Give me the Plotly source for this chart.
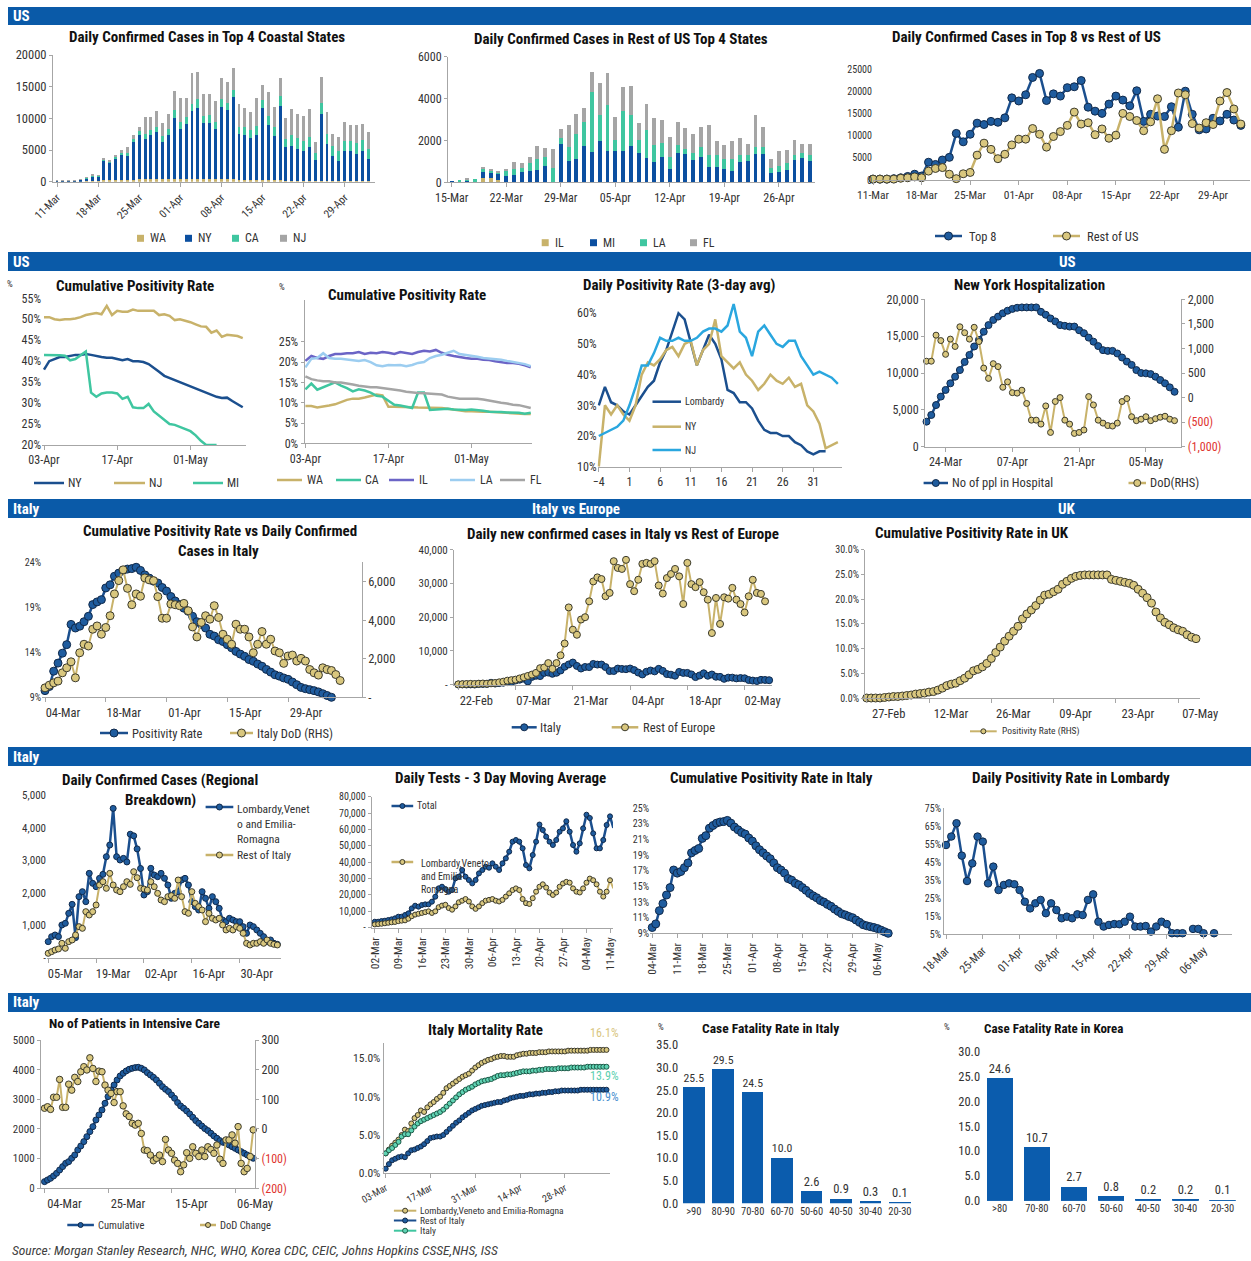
import pandas as pd
import plotly.graph_objects as go

W, H = 1251, 1261
NARROW = "Liberation Sans Narrow, Arial Narrow, Roboto Condensed, DejaVu Sans Condensed, Roboto, sans-serif"
TXT = "#333333"
AXC = "#a6a6a6"
DBLUE = "#1b4f8e"
MBLUE = "#1f5c9e"
DKOUT = "#10294a"
BARBLUE = "#0b4fa0"
TAN = "#c8b26a"
TANM = "#d9c77e"
TANOUT = "#3b3a2c"
TEAL = "#3fc6a0"
GRAY = "#a5a5a5"
PURPLE = "#6b64c6"
LBLUE = "#9ccdf0"
SKY = "#2aa7df"
HEAD = "#0a5aa8"
RED = "#e0352f"

# ---------------- DATA ----------------
# C1 Daily confirmed cases top 4 coastal states (11-Mar .. 03-May)
C1_START = "2020-03-11"
WA_c1 = [50,50,50,50,80,100,150,150,200,200,250,250,300,300,350,400,450,400,400,400,450,400,400,450,500,450,400,400,350,400,350,300,250,250,200,250,200,200,200,150,150,150,150,150,100,150,150,100,100,100,100,100,100,100]
NY_c1 = [100,140,100,140,200,420,700,600,3100,2800,3400,3900,3700,6000,7100,6300,7000,7500,5900,6900,9650,7900,8700,10650,11200,8850,8900,7900,11450,10900,12950,7200,7150,6650,7200,11450,8800,7000,11700,5250,5550,5050,4750,5350,3400,10550,5850,4000,3200,4700,4700,4200,4800,3500]
CA_c1 = [30,30,30,30,40,100,150,150,250,200,300,400,500,500,600,800,700,800,900,1000,1200,1200,1100,1200,1300,1100,1200,1100,1200,1200,1100,1200,1300,1200,1400,1200,1400,1500,1600,1300,1600,1700,1600,1500,1000,1700,1500,1600,1500,1700,1600,1800,1700,1500]
NJ_c1 = [20,30,20,30,30,80,100,100,250,300,250,450,900,600,650,2700,2050,2400,2100,2400,3000,3700,3000,4800,4300,3400,3300,3400,3300,3300,3500,3500,3000,2900,4400,2400,3800,3100,2900,3400,4200,3800,3900,4400,1700,4100,3500,1800,2300,2900,2600,2800,2500,2700]

# C2 Rest of US top 4 states (15-Mar .. 30-Apr)
C2_START = "2020-03-15"
IL_c2 = [0,0,0,0,200,200,100,0,0,0,0,0,0,0,0,0,0,0,0,0,0,0,0,0,0,0,0,0,0,0,0,0,0,0,0,0,0,0,0,0,0,0,0,0,0,0,0]
MI_c2 = [80,0,50,0,300,250,350,300,350,500,550,600,800,0,1850,1000,1100,1750,1450,1950,1500,1500,1500,1750,1400,1150,950,1200,650,1400,1350,1050,1200,750,750,650,550,950,1000,1350,1350,450,500,600,1050,1150,1000]
LA_c2 = [0,100,100,150,150,100,50,250,300,200,350,500,400,700,250,700,1200,1150,2850,1250,2200,500,1900,1450,600,1350,850,700,550,400,250,350,500,550,550,450,550,350,300,350,350,250,300,300,250,250,300]
FL_c2 = [0,0,50,0,100,100,50,100,300,200,300,650,450,900,450,1050,950,650,950,1550,1500,1100,1150,1400,850,1250,1250,1100,950,1100,1000,900,950,1450,650,700,850,800,550,1500,950,400,700,650,700,450,550]

# C3 Top 8 vs rest of US (11-Mar .. 03-May)
TOP8 = [200,200,200,300,500,800,1300,900,4000,3500,4500,5100,10500,8600,10300,12800,12500,13200,13000,14000,18500,17800,19200,23100,24000,17900,19400,18900,20800,21000,22400,16400,15500,15000,17100,18900,18000,16700,20100,13200,14800,14400,14300,16500,11900,20000,14800,11300,11500,13900,13300,14800,13500,12300]
REST_US = [200,200,200,200,400,500,700,500,2000,2600,2800,1300,300,1400,1700,5600,8300,6900,4800,5800,7900,9200,9200,11600,10300,7400,9800,10900,12300,15300,12600,12900,10200,11500,9400,10100,15000,14300,13400,11100,13100,18300,6900,11100,19600,19200,12700,11700,12900,12500,17800,19700,16000,12600]

# C4 / C5 cumulative positivity rate by state (03-Apr .. 11-May), %
POS_START = "2020-04-03"
NY_c4 = [38,40,40.5,41,41,41.3,41.5,41.5,41.7,41.5,41.2,41,40.8,40.8,40.5,40.2,40.5,40,40,39.8,39.3,38.5,37.5,36.5,36,35.5,35,34.5,34,33.5,33,32.5,32,31.5,31.2,31.3,30.5,29.8,29]
NJ_c4 = [50.5,50.5,50,49.8,50,50,50.2,50.5,51,51.3,51.5,51.2,53.2,51,52,51.8,51.8,52.3,52,52,52,52,51,51.2,50.8,49.8,50,49.7,49.3,48.8,48.3,48.2,46.8,47.3,45.8,46.3,46.2,46,45.5]
MI_c4 = [41.5,41.5,41.5,41.4,41.3,40.2,40.5,41.5,42.3,32.5,31.5,32.3,32.5,32.5,32.3,31,31.5,29,28.8,28.8,29.8,28,27,26,25,24.8,24.3,23.8,23.3,22.3,21,20,20,20,None,None,None,None,None]
WA_c5 = [9.2,9.2,8.8,9.0,9.3,9.6,10.2,10.7,11.0,11.0,11.3,11.6,12.0,11.8,9.0,9.0,9.0,9.0,8.9,8.8,8.8,8.8,8.8,8.7,8.5,8.3,8.0,7.9,7.9,7.8,7.8,7.8,7.7,7.5,7.4,7.3,7.3,7.2,7.2]
CA_c5 = [13.3,14.7,13.2,13.8,14.5,15.0,14.2,13.6,12.8,13.3,13.0,12.5,11.7,11.5,10.5,9.5,9.3,9.0,8.7,12.5,12.5,8.2,8.3,8.5,8.5,8.3,8.2,8.2,8.3,8.2,8.0,7.8,7.8,7.7,7.6,7.6,7.5,7.3,7.5]
IL_c5 = [20.3,21.5,21,20.8,21.5,22,22,22.2,22.2,22.5,22,22.3,22.2,22.5,22.3,22,22.5,22.3,22,22.5,22.8,22.6,23.0,22.3,21.8,21.5,21.2,21,20.8,20.8,20.6,20.5,20.2,20,19.8,19.8,19.6,19.2,18.7]
LA_c5 = [18.7,20.8,21,22.2,21,20.8,20.8,20.6,20.5,20.3,20.5,20.0,19.2,19.0,19.3,19.2,19.3,19.0,19.3,19.8,20.0,21.0,21.5,21.8,22.3,22.8,22.0,21.8,21.5,21.3,21.0,20.9,20.8,20.6,20.3,20.0,19.8,19.5,19.0]
FL_c5 = [16.5,15.8,15.5,15.3,15.3,15.0,15.0,14.8,14.5,14.2,14.0,13.8,13.8,13.6,13.5,13.3,13.0,12.7,12.5,12.4,12.3,12.2,12.2,12.0,11.5,11.2,11.0,11.0,11.0,11.0,10.8,10.5,10.3,10.0,9.8,9.5,9.4,9.0,8.7]

# C6 Daily positivity rate 3-day avg, days since start (from -4), %
C6_FIRST_DAY = -4
LOMB_c6 = [30,36,31,30,28,27,30,33,36,38,44,48,54,60,58,50,43,48,53,50,45,35,34,31,31,29,25,22,21,21,20,20,18,17,15,14,15,15]
NY_c6 = [10,30,27,30,27,25,30,40,44,43,45,48,49,46,50,51,43,48,50,58,46,44,42,44,40,38,35,37,40,38,37,39,36,37,30,28,24,16,17,18]
NJ_c6 = [20,21,22,23,25,30,36,43,43,47,52,51,51,52,51,51,52,54,55,55,54,56,63,54,52,46,54,56,53,50,49,51,51,46,43,40,41,40,39,37]

# C7 New York hospitalization (20-Mar .. 11-May)
C7_START = "2020-03-20"
HOSP = [3400,4300,5650,6800,7700,8600,9500,10400,11500,12450,13600,14500,15600,16500,17200,17650,18100,18450,18700,18850,18900,18900,18900,18900,18300,17900,17400,17000,16500,16400,16300,16300,15800,15400,14800,14250,13650,13100,13000,13000,12650,12100,11550,11100,10400,10000,9950,9850,9500,9050,8600,8050,7450]
HOSP_DOD = [740,740,1270,1160,880,1190,1040,1440,1320,1190,1430,1140,600,390,690,630,210,320,100,90,150,-120,-460,-460,-540,-170,-710,-80,0,-460,-540,-730,-710,-660,20,-150,-460,-520,-570,-580,-520,-80,-20,-390,-470,-440,-390,-470,-430,-400,-380,-440,-470]

# C8 / C13 Italy cumulative positivity (from 04-Mar), DoD cases
IT_START = "2020-03-04"
POS_IT = [9.74,10.2,11.9,12.8,13.9,14.85,17.1,16.7,16.9,17.4,18.0,19.3,19.6,19.85,21.15,21.5,22.45,22.8,23.1,23.25,23.3,23.45,23.1,22.6,22.25,21.9,21.7,21.2,20.8,20.2,19.7,19.3,18.9,18.55,18.0,17.4,17.1,16.7,16.0,15.8,15.4,15.2,14.85,14.5,14.1,13.8,13.55,13.2,13.0,12.7,12.45,12.1,11.8,11.5,11.35,11.15,11.0,10.7,10.4,10.1,9.96,9.85,9.74,9.6,9.4,9.2,9.0]
DOD_IT = [490,630,750,840,1270,1530,1840,1010,2310,2750,2660,3530,3700,3270,3620,4230,5360,6050,6610,5650,4800,5360,5240,6190,6090,6050,5220,4100,4100,4840,4800,4750,4870,4490,3650,3130,3880,4230,4050,4750,4140,3270,3010,2750,3790,3530,3530,3130,2310,2750,3410,2750,3010,2400,2310,1760,2140,2190,1880,2020,1880,1440,1270,1150,1530,1440,1390,1180,870]

# C9 Italy vs rest of Europe daily new cases (22-Feb .. 08-May)
EU_START = "2020-02-22"
ITALY_EU = [60,90,70,90,60,200,230,240,570,340,470,590,770,780,1250,1490,1800,980,2310,2650,2550,3500,3590,3230,3530,4210,5320,5990,6560,5560,4790,5250,5210,6150,5960,5970,5220,4050,4050,4780,4670,4590,4800,4320,3600,3040,3840,4200,3950,4690,4090,3150,2970,2670,3790,3490,3490,3050,2260,2730,3370,2650,3020,2360,2320,1740,2090,2090,1870,1970,1900,1390,1220,1080,1440,1400,1330]
REST_EU = [100,150,200,250,200,300,350,300,400,500,700,900,1200,1350,1500,1850,2200,2600,3000,3500,4900,5100,6400,4700,6400,8700,12200,22900,16300,14800,19300,20000,24700,30600,31800,31300,26200,27200,36600,34600,34300,37000,29800,27700,31100,35800,36100,35800,36600,29400,27000,31600,32800,34300,32100,23900,36100,29800,28900,30400,27400,25200,15300,25700,18000,25900,25500,28700,25200,23900,21400,26200,31100,27200,26900,24700,None]

# C10 UK cumulative positivity (27-Feb .. 11-May), %
UK_START = "2020-02-27"
UK_POS = [0,0,0,0,0.1,0.2,0.3,0.3,0.4,0.5,0.6,0.8,0.9,1.0,1.2,1.3,1.6,2.0,2.5,2.8,3.0,3.5,4.0,4.7,5.5,5.8,6.3,7.0,8.0,9.2,10.3,11.5,12.5,13.5,14.5,16.0,17.0,17.8,18.7,19.8,20.8,21.0,21.5,22.0,23.0,23.6,24.2,24.6,24.8,24.9,24.9,24.9,24.9,24.9,24.9,24.0,23.8,23.6,23.4,23.2,22.8,22.0,21.2,20.3,19.2,17.4,16.2,15.3,14.8,14.2,13.8,13.5,12.8,12.3,12.0]

# C11 Italy regional breakdown daily cases (05-Mar .. 11-May)
REG_START = "2020-03-05"
LVE_CASES = [510,663,714,663,1020,1071,1377,1652,632,1887,2040,1734,2601,2295,2193,2448,2570,3111,3468,4590,3111,3009,3060,2950,3800,3750,3350,2750,1938,2040,2754,2550,2499,2601,2448,2244,1836,1989,2040,2397,2448,2244,1734,1581,1479,2040,1836,1530,1887,1734,1530,1173,1122,1224,1173,1122,1122,969,765,1020,969,867,765,663,510,561,459,428]
ROI_CASES = [153,204,255,286,459,306,510,561,714,969,918,1428,1326,1428,1632,2244,2346,2142,2601,2244,2091,2040,2193,2346,2264,2652,2468,2142,2121,2091,2346,2193,1989,1785,1734,1887,1918,1836,2397,1887,1428,1377,2040,1683,1581,1479,1122,1377,1224,1173,1224,1020,867,918,867,969,918,765,459,408,459,459,510,459,561,459,428,408]

# C12 Daily tests 3-day MA (02-Mar .. 12-May)
TEST_START = "2020-03-02"
TESTS_TOTAL = [3660,3660,4070,4280,4680,5090,5700,6720,6720,7740,8750,11800,13440,12830,13840,14250,14250,15880,18930,24020,25040,23620,21990,23000,30130,31150,35220,31150,29110,27080,29110,33190,35220,37260,36650,39290,37260,35220,39290,42350,46420,52530,53550,52530,48460,38280,36240,44390,52530,63000,59650,55580,52530,50490,53550,58640,60670,65000,58640,50490,46420,51510,60670,69000,67000,57620,48460,48460,53550,62710,68000,61000]
TESTS_LVE = [2000,2200,2400,2700,3000,3300,3500,4000,4300,4500,5500,7000,8000,8500,9000,9500,10000,9000,10000,12500,13500,14000,12000,11000,13000,15500,16500,17500,16000,13000,11500,13000,15000,16500,17000,17500,16500,16000,17000,19000,21000,23000,24000,23000,17500,15000,14500,18000,22000,25000,26500,24500,21500,20000,21500,25000,27000,28000,27500,24000,22000,21500,24000,27500,30000,29000,26500,22000,19000,22000,29000,24000]

# C14 Lombardy daily positivity (18-Mar .. 08-May), %
LOMB_START = "2020-03-18"
LOMB_POS = [54.6,59.3,66.7,48.7,34.6,44.4,59.3,56.5,33.3,42.6,29.6,32.4,33.3,32.8,29.6,23.1,19.4,22.2,24.1,16.7,22.2,18.5,13.9,14.8,13.9,16.1,15.7,24.1,27.2,12.0,9.3,10.2,10.7,10.6,12.0,14.8,9.3,9.3,9.6,6.5,9.3,12.0,10.7,5.6,5.6,5.6,None,8.0,8.0,5.6,None,5.6]

# C15 Italy intensive care (04-Mar .. 12-May)
ICU_START = "2020-03-04"
ICU = [225,281,337,416,506,618,731,843,899,1012,1124,1293,1427,1574,1742,1911,2079,2304,2473,2641,2866,3091,3316,3484,3653,3788,3878,3956,4013,4046,4069,4080,4046,3990,3900,3822,3743,3653,3541,3428,3338,3260,3147,3035,2889,2776,2698,2608,2507,2394,2282,2192,2102,2012,1945,1855,1765,1686,1607,1551,1517,1461,1405,1349,1293,1236,1180,1124,1068,1012]
ICU_DOD = [70,75,66,107,107,167,73,73,151,131,174,160,193,210,199,240,204,160,195,193,148,131,120,89,126,126,78,51,42,19,13,19,-15,-71,-73,-88,-107,-99,-88,-110,-35,-71,-82,-105,-116,-144,-121,-80,-99,-60,-82,-93,-71,-93,-60,-69,-82,-54,-102,-116,-37,-37,-20,-48,8,-116,-144,-133,-93,-3]

# C16 Italy mortality rate (03-Mar .. 11-May), %
MORT_START = "2020-03-03"
MORT_LVE = [2.6,3.1,3.6,4.0,4.4,5.0,5.7,5.5,6.5,7.2,7.6,8.2,8.0,8.6,9.0,9.3,9.7,10.0,10.5,11.1,11.4,11.7,12.0,12.3,12.6,12.8,13.0,13.4,13.8,14.1,14.4,14.6,14.8,14.9,15.1,15.2,15.3,15.3,15.2,15.2,15.2,15.4,15.5,15.6,15.6,15.7,15.7,15.7,15.8,15.8,15.8,15.9,15.9,15.9,15.9,15.9,15.9,16.0,16.0,16.0,16.0,16.0,16.0,16.0,16.1,16.1,16.1,16.1,16.1,16.1]
MORT_ROI = [0.6,1.2,1.7,1.9,2.1,2.2,2.1,2.6,3.0,3.1,3.3,3.5,3.8,4.2,4.6,4.7,4.8,4.8,5.0,5.4,5.8,6.2,6.6,6.9,7.3,7.6,7.9,8.2,8.4,8.6,8.8,8.9,9.0,9.1,9.2,9.3,9.3,9.5,9.6,9.8,9.9,10.0,10.1,10.1,10.2,10.3,10.3,10.4,10.4,10.5,10.5,10.6,10.6,10.7,10.7,10.8,10.8,10.8,10.8,10.8,10.8,10.9,10.9,10.9,10.9,10.9,10.9,10.9,10.9,10.9]
MORT_IT = [2.6,3.0,3.3,3.7,4.1,4.8,5.1,5.1,5.6,6.1,6.5,6.8,7.0,7.2,7.4,7.6,7.8,8.0,8.3,8.7,9.1,9.5,9.9,10.3,10.6,10.9,11.1,11.3,11.6,11.8,12.0,12.1,12.2,12.3,12.5,12.7,12.8,12.8,12.9,12.9,13.0,13.1,13.2,13.3,13.3,13.3,13.4,13.4,13.5,13.5,13.6,13.6,13.6,13.6,13.7,13.7,13.7,13.7,13.8,13.8,13.8,13.8,13.8,13.9,13.9,13.9,13.9,13.9,13.9,13.9]
MORT_LABELS = ["16.1%", "13.9%", "10.9%"]

# C17 / C18 case fatality rate by age
AGE_IT = [">90", "80-90", "70-80", "60-70", "50-60", "40-50", "30-40", "20-30"]
CFR_IT = [25.5, 29.5, 24.5, 10.0, 2.6, 0.9, 0.3, 0.1]
AGE_KR = [">80", "70-80", "60-70", "50-60", "40-50", "30-40", "20-30"]
CFR_KR = [24.6, 10.7, 2.7, 0.8, 0.2, 0.2, 0.1]

# ---------------- HELPERS ----------------
def days(start, n):
    return pd.date_range(start, periods=n, freq="D").strftime("%Y-%m-%d").tolist()

def drange(start, p0, k, L, R):
    s = pd.Timestamp(start)
    a = s + pd.Timedelta(days=(L - p0) / k)
    b = s + pd.Timedelta(days=(R - p0) / k)
    return [a.strftime("%Y-%m-%d %H:%M:%S"), b.strftime("%Y-%m-%d %H:%M:%S")]

def tf(size=11, color=TXT):
    return dict(family=NARROW, size=size, color=color)

BASE_X = dict(showgrid=False, zeroline=False, showline=True, linecolor=AXC, linewidth=1, automargin=False,
              ticks="outside", ticklen=4, tickcolor=AXC, tickfont=tf(11), fixedrange=True)
BASE_Y = dict(showgrid=False, zeroline=False, showline=False, ticks="", tickfont=tf(11), fixedrange=True,
              automargin=False)

layout_axes = {}
traces = []
shapes = []
annos = []
cnt = {"x": 0, "y": 0}

def _axid(kind):
    cnt[kind] += 1
    n = cnt[kind]
    suf = "" if n == 1 else str(n)
    return kind + suf, kind + "axis" + suf

def panel(L, R, T, B, xkw, ykw, y2kw=None):
    xid, xkey = _axid("x")
    yid, ykey = _axid("y")
    X = dict(BASE_X); X.update(xkw); X.update(domain=[L / W, R / W], anchor=yid)
    Y = dict(BASE_Y); Y.update(ykw); Y.update(domain=[1 - B / H, 1 - T / H], anchor=xid)
    layout_axes[xkey] = X
    layout_axes[ykey] = Y
    y2id = None
    if y2kw is not None:
        y2id, y2key = _axid("y")
        Y2 = dict(BASE_Y); Y2.update(y2kw); Y2.update(overlaying=yid, anchor=xid, side="right")
        layout_axes[y2key] = Y2
    return xid, yid, y2id

def date_x(start, p0, k, L, R, tick0, dtick_days, last, angle=0, size=11, shift=0):
    tv = pd.date_range(tick0, last, freq="%dD" % dtick_days)
    d = dict(type="date", range=drange(start, p0, k, L, R), tickmode="array",
             tickvals=tv.strftime("%Y-%m-%d").tolist(), ticktext=tv.strftime("%d-%b").tolist(),
             tickangle=angle, tickfont=tf(size))
    if shift:
        d["ticklabelshift"] = shift
    return d

def sc(x, y, xid, yid, color, width=2.5, msize=None, mfill=None, mout=None):
    kw = dict(x=x[:len(y)], y=y, xaxis=xid, yaxis=yid, showlegend=False, cliponaxis=False,
              line=dict(color=color, width=width))
    if msize:
        kw["mode"] = "lines+markers"
        kw["marker"] = dict(size=msize, color=mfill, line=dict(color=mout, width=1))
    else:
        kw["mode"] = "lines"
    traces.append(go.Scatter(**kw))

def P(x, y):
    return x / W, 1 - y / H

def text(t, x, y, size=11, color=TXT, anchor="left", bold=False, italic=False, family=NARROW):
    if bold:
        t = "<b>" + t + "</b>"
    if italic:
        t = "<i>" + t + "</i>"
    xx, yy = P(x, y)
    annos.append(dict(text=t, x=xx, y=yy, xref="paper", yref="paper", xanchor=anchor,
                      yanchor="middle", showarrow=False, font=dict(family=family, size=size, color=color)))

def title(t, x, y, size=15):
    text(t, x, y, size=size, color="#111111", anchor="center", bold=True)

def rect(x0, y0, x1, y1, color):
    a, b = P(x0, y0)
    c, d = P(x1, y1)
    shapes.append(dict(type="rect", xref="paper", yref="paper", x0=a, y0=d, x1=c, y1=b,
                       fillcolor=color, line=dict(width=0)))

def leg_sq(x, y, color, label, size=7, fsize=12):
    rect(x, y - size / 2, x + size, y + size / 2, color)
    text(label, x + size + 4, y, size=fsize)

def leg_line(x0, x1, y, color, label, tx=None, width=2.5, msize=None, mfill=None, mout=None, fsize=11):
    a, b = P(x0, y)
    c, _ = P(x1, y)
    shapes.append(dict(type="line", xref="paper", yref="paper", x0=a, y0=b, x1=c, y1=b,
                       line=dict(color=color, width=width)))
    if msize:
        cx = (x0 + x1) / 2
        r = msize / 2
        e, f = P(cx - r, y + r)
        g, h = P(cx + r, y - r)
        shapes.append(dict(type="circle", xref="paper", yref="paper", x0=e, y0=f, x1=g, y1=h,
                           fillcolor=mfill, line=dict(color=mout, width=1)))
    if label:
        text(label, tx if tx is not None else x1 + 3, y, size=fsize)

def neg_red(vals, labels):
    out = []
    for v, l in zip(vals, labels):
        out.append('<span style="color:%s">%s</span>' % (RED, l) if v < 0 else l)
    return out

DAY_MS = 86400000

# ---------------- SECTION HEADERS ----------------
for (t, b) in [(7, 25), (252, 271), (499, 518), (747, 766), (993, 1012)]:
    rect(8, t, W, b, HEAD)
text("US", 11, 16, size=15, color="white", bold=True)
text("US", 11, 261.5, size=15, color="white", bold=True)
text("US", 1067, 261.5, size=15, color="white", bold=True, anchor="center")
text("Italy", 11, 508.5, size=15, color="white", bold=True)
text("Italy vs Europe", 576, 508.5, size=15, color="white", bold=True, anchor="center")
text("UK", 1067, 508.5, size=15, color="white", bold=True, anchor="center")
text("Italy", 11, 756.5, size=15, color="white", bold=True)
text("Italy", 11, 1002.5, size=15, color="white", bold=True)

# ---------------- C1 ----------------
L, R = 53, 375
x1, y1, _ = panel(L, R, 55, 181.7,
                  date_x(C1_START, 57, 5.87, L, R, "2020-03-11", 7, "2020-04-29", angle=-45, size=11),
                  dict(range=[0, 20000], dtick=5000, tickformat="d", showline=True, linecolor=AXC,
                       ticks="outside", ticklen=3, tickcolor=AXC, tickfont=tf(12.5)))
d1 = days(C1_START, len(NY_c1))
for vals, col in [(WA_c1, TAN), (NY_c1, BARBLUE), (CA_c1, TEAL), (NJ_c1, GRAY)]:
    traces.append(go.Bar(x=d1, y=vals, xaxis=x1, yaxis=y1, marker=dict(color=col, line=dict(width=0)),
                         width=0.5 * DAY_MS, showlegend=False))
title("Daily Confirmed Cases in Top 4 Coastal States", 206.7, 37)
leg_sq(137, 238.3, TAN, "WA")
leg_sq(185, 238.3, BARBLUE, "NY")
leg_sq(232, 238.3, TEAL, "CA")
leg_sq(280, 238.3, GRAY, "NJ")

# ---------------- C2 ----------------
L, R = 448, 815
x2, y2, _ = panel(L, R, 56.7, 182.3,
                  date_x(C2_START, 451.7, 7.79, L, R, "2020-03-15", 7, "2020-04-26", angle=0, size=12),
                  dict(range=[0, 6000], dtick=2000, tickformat="d", showline=True, linecolor=AXC,
                       ticks="outside", ticklen=3, tickcolor=AXC, tickfont=tf(12)))
d2 = days(C2_START, len(MI_c2))
for vals, col in [(IL_c2, TAN), (MI_c2, BARBLUE), (LA_c2, TEAL), (FL_c2, GRAY)]:
    traces.append(go.Bar(x=d2, y=vals, xaxis=x2, yaxis=y2, marker=dict(color=col, line=dict(width=0)),
                         width=0.5 * DAY_MS, showlegend=False))
title("Daily Confirmed Cases in Rest of US Top 4 States", 620.8, 39.3)
leg_sq(541.7, 242.7, TAN, "IL")
leg_sq(590, 242.7, BARBLUE, "MI")
leg_sq(640, 242.7, TEAL, "LA")
leg_sq(690, 242.7, GRAY, "FL")

# ---------------- C3 ----------------
L, R = 873, 1250
x3, y3, _ = panel(L, R, 69, 180,
                  date_x(C1_START, 873, 6.94, L, R, "2020-03-11", 7, "2020-04-29", angle=0, size=11.5),
                  dict(range=[0, 25000], dtick=5000, tickformat="d", tickfont=tf(10)))
d3 = days(C1_START, len(TOP8))
sc(d3, TOP8, x3, y3, DBLUE, 2.5, 8, MBLUE, DKOUT)
sc(d3, REST_US, x3, y3, TAN, 2.5, 8, TANM, TANOUT)
title("Daily Confirmed Cases in Top 8 vs Rest of US", 1026.7, 37.3)
leg_line(935, 962, 236, DBLUE, "Top 8", tx=967, msize=8, mfill=MBLUE, mout=DKOUT, fsize=12.5)
leg_line(1053, 1080, 236, TAN, "Rest of US", tx=1085, msize=8, mfill=TANM, mout=TANOUT, fsize=12.5)

# ---------------- C4 ----------------
L, R = 42, 246
x4, y4, _ = panel(L, R, 298.3, 445,
                  date_x(POS_START, 44, 5.23, L, R, "2020-04-03", 14, "2020-05-01", angle=0, size=12),
                  dict(range=[20, 55], tickvals=[20, 25, 30, 35, 40, 45, 50, 55],
                       ticktext=["20%", "25%", "30%", "35%", "40%", "45%", "50%", "55%"], tickfont=tf(12)))
d4 = days(POS_START, 39)
sc(d4, NY_c4, x4, y4, DBLUE, 2.5)
sc(d4, NJ_c4, x4, y4, TAN, 2.5)
sc(d4, MI_c4, x4, y4, TEAL, 2.5)
title("Cumulative Positivity Rate", 134.8, 286)
text("%", 5, 284, size=9)
leg_line(34, 64, 483, DBLUE, "NY", tx=66, fsize=12)
leg_line(114, 145, 483, TAN, "NJ", tx=147, fsize=12)
leg_line(193, 223, 483, TEAL, "MI", tx=225, fsize=12)

# ---------------- C5 ----------------
L, R = 304.6, 532
x5, y5, _ = panel(L, R, 300, 443.3,
                  date_x(POS_START, 305.4, 5.93, L, R, "2020-04-03", 14, "2020-05-01", angle=0, size=12),
                  dict(range=[0, 35.3], tickvals=[0, 5, 10, 15, 20, 25],
                       ticktext=["0%", "5%", "10%", "15%", "20%", "25%"],
                       showline=True, linecolor=AXC, ticks="outside", ticklen=3, tickcolor=AXC, tickfont=tf(12)))
sc(d4, WA_c5, x5, y5, TAN, 2.5)
sc(d4, CA_c5, x5, y5, TEAL, 2.5)
sc(d4, IL_c5, x5, y5, PURPLE, 2.5)
sc(d4, LA_c5, x5, y5, LBLUE, 2.5)
sc(d4, FL_c5, x5, y5, GRAY, 2.5)
title("Cumulative Positivity Rate", 407, 295)
text("%", 276.8, 287, size=9)
leg_line(277, 302, 480, TAN, "WA", tx=305, fsize=12)
leg_line(336, 361, 480, TEAL, "CA", tx=363, fsize=12)
leg_line(389, 414, 480, PURPLE, "IL", tx=417, fsize=12)
leg_line(450, 475, 480, LBLUE, "LA", tx=478, fsize=12)
leg_line(500, 525, 480, GRAY, "FL", tx=528, fsize=12)

# ---------------- C6 ----------------
L, R = 597.5, 842
p0, k = 598.8, 6.13
x6, y6, _ = panel(L, R, 300, 466.7,
                  dict(type="linear", range=[-4 + (L - p0) / k, -4 + (R - p0) / k], tick0=-4, dtick=5,
                       tickfont=tf(12)),
                  dict(range=[10, 64.3], tickvals=[10, 20, 30, 40, 50, 60],
                       ticktext=["10%", "20%", "30%", "40%", "50%", "60%"], tickfont=tf(12)))
sc(list(range(C6_FIRST_DAY, C6_FIRST_DAY + len(LOMB_c6))), LOMB_c6, x6, y6, DBLUE, 2.5)
sc(list(range(C6_FIRST_DAY, C6_FIRST_DAY + len(NY_c6))), NY_c6, x6, y6, TAN, 2.5)
sc(list(range(C6_FIRST_DAY, C6_FIRST_DAY + len(NJ_c6))), NJ_c6, x6, y6, SKY, 2.5)
title("Daily Positivity Rate (3-day avg)", 679, 285)
leg_line(652.5, 681, 401.7, DBLUE, "Lombardy", tx=683, fsize=10)
leg_line(652.5, 681, 426.7, TAN, "NY", tx=683, fsize=10)
leg_line(652.5, 681, 450, SKY, "NJ", tx=683, fsize=10)

# ---------------- C7 ----------------
L, R = 925, 1181.4
r_vals = [-1000, -500, 0, 500, 1000, 1500, 2000]
r_txt = neg_red(r_vals, ["(1,000)", "(500)", "0", "500", "1,000", "1,500", "2,000"])
x7, y7, y7b = panel(L, R, 299.3, 446.7,
                    date_x(C7_START, 926.5, 4.77, L, R, "2020-03-24", 14, "2020-05-05", angle=0, size=12),
                    dict(range=[0, 20000], dtick=5000, tickformat=",d", showline=True, linecolor=AXC,
                         ticks="outside", ticklen=3, tickcolor=AXC, tickfont=tf(12)),
                    dict(range=[-1000, 2000], tickvals=r_vals, ticktext=r_txt, showline=True, linecolor=AXC,
                         ticks="outside", ticklen=3, tickcolor=AXC, tickfont=tf(12)))
d7 = days(C7_START, len(HOSP))
sc(d7, HOSP, x7, y7, DBLUE, 2.5, 7, MBLUE, DKOUT)
sc(d7, HOSP_DOD, x7, y7b, TAN, 2, 6, TANM, TANOUT)
title("New York Hospitalization", 1029.4, 285)
leg_line(923.6, 948, 483, DBLUE, "No of ppl in Hospital", tx=950, msize=7, mfill=MBLUE, mout=DKOUT, fsize=12.5)
leg_line(1128.5, 1146, 483, TAN, "DoD(RHS)", tx=1148.4, msize=7, mfill=TANM, mout=TANOUT, fsize=12.5)

# ---------------- C8 ----------------
L, R = 42, 361.7
x8, y8, y8b = panel(L, R, 562.3, 697.3,
                    date_x(IT_START, 45, 4.34, L, R, "2020-03-04", 14, "2020-04-29", angle=0, size=12.5, shift=18),
                    dict(range=[9, 24], tickvals=[9, 14, 19, 24], ticktext=["9%", "14%", "19%", "24%"],
                         tickfont=tf(10)),
                    dict(range=[0, 7000], tickvals=[0, 2000, 4000, 6000], ticktext=["-", "2,000", "4,000", "6,000"],
                         showline=True, linecolor=AXC, ticks="outside", ticklen=3, tickcolor=AXC, tickfont=tf(12.5)))
d8 = days(IT_START, 70)
sc(d8, POS_IT, x8, y8, DBLUE, 2.5, 8, MBLUE, DKOUT)
sc(d8, DOD_IT, x8, y8b, TAN, 2, 8, TANM, TANOUT)
title("Cumulative Positivity Rate vs Daily Confirmed", 220, 531.3)
title("Cases in Italy", 218, 551.3)
leg_line(100, 128, 733, DBLUE, "Positivity Rate", tx=130, msize=8, mfill=MBLUE, mout=DKOUT, fsize=12.5)
leg_line(230, 253, 733, TAN, "Italy DoD (RHS)", tx=255, msize=8, mfill=TANM, mout=TANOUT, fsize=12.5)

# ---------------- C9 ----------------
L, R = 454, 772
x9, y9, _ = panel(L, R, 549.7, 684.7,
                  date_x(EU_START, 458.3, 4.09, L, R, "2020-02-22", 14, "2020-05-02", angle=0, size=12.5, shift=18),
                  dict(range=[0, 40000], tickvals=[0, 10000, 20000, 30000, 40000],
                       ticktext=["-", "10,000", "20,000", "30,000", "40,000"], showline=True, linecolor=AXC,
                       ticks="outside", ticklen=3, tickcolor=AXC, tickfont=tf(11)))
d9 = days(EU_START, len(ITALY_EU))
sc(d9, ITALY_EU, x9, y9, DBLUE, 2.5, 7, MBLUE, DKOUT)
sc(d9, REST_EU, x9, y9, TAN, 2, 7, TANM, TANOUT)
title("Daily new confirmed cases in Italy vs Rest of Europe", 623.3, 534)
leg_line(511.7, 536.7, 727.3, DBLUE, "Italy", tx=538.3, msize=7, mfill=MBLUE, mout=DKOUT, fsize=12.5)
leg_line(611.7, 638.3, 727.3, TAN, "Rest of Europe", tx=640.7, msize=7, mfill=TANM, mout=TANOUT, fsize=12.5)

# ---------------- C10 ----------------
L, R = 865, 1200
x10, y10, _ = panel(L, R, 549.7, 698,
                    date_x(UK_START, 866.7, 4.45, L, R, "2020-02-27", 14, "2020-05-07", angle=0, size=12.5, shift=22),
                    dict(range=[0, 30], tickvals=[0, 5, 10, 15, 20, 25, 30],
                         ticktext=["0.0%", "5.0%", "10.0%", "15.0%", "20.0%", "25.0%", "30.0%"],
                         showline=True, linecolor=AXC, ticks="outside", ticklen=3, tickcolor=AXC, tickfont=tf(10)))
d10 = days(UK_START, len(UK_POS))
sc(d10, UK_POS, x10, y10, TAN, 2, 8, TANM, TANOUT)
title("Cumulative Positivity Rate in UK", 971.7, 533)
leg_line(970, 996.7, 731.3, TAN, "Positivity Rate (RHS)", tx=1000, width=2, msize=5, mfill=TANM, mout=TANOUT, fsize=9.5)

# ---------------- C11 ----------------
L, R = 47, 280.7
x11, y11, _ = panel(L, R, 795, 958.3,
                    date_x(REG_START, 48.2, 3.42, L, R, "2020-03-05", 14, "2020-04-30", angle=0, size=12.5, shift=17),
                    dict(range=[0, 5000], tickvals=[0, 1000, 2000, 3000, 4000, 5000],
                         ticktext=["-", "1,000", "2,000", "3,000", "4,000", "5,000"], tickfont=tf(11)))
d11 = days(REG_START, len(LVE_CASES))
sc(d11, LVE_CASES, x11, y11, DBLUE, 2.5, 6, MBLUE, DKOUT)
sc(d11, ROI_CASES, x11, y11, TAN, 2, 6, TANM, TANOUT)
title("Daily Confirmed Cases (Regional", 160, 780)
title("Breakdown)", 160, 800)
leg_line(205.6, 233.3, 807, DBLUE, "", msize=6, mfill=MBLUE, mout=DKOUT)
xx, yy = P(235.3, 800)
annos.append(dict(text="Lombardy,Venet<br>o and Emilia-<br>Romagna", x=xx, y=yy, xref="paper", yref="paper",
                  xanchor="left", yanchor="top", align="left", showarrow=False, font=tf(11.5)))
leg_line(205.6, 233.3, 855, TAN, "Rest of Italy", tx=235.3, msize=6, mfill=TANM, mout=TANOUT, fsize=11.5)

# ---------------- C12 ----------------
L, R = 371.7, 613
x12, y12, _ = panel(L, R, 796.7, 927.7,
                    date_x(TEST_START, 374.8, 3.36, L, R, "2020-03-02", 7, "2020-05-11", angle=-90, size=11.5),
                    dict(range=[0, 80000], tickvals=[0, 10000, 20000, 30000, 40000, 50000, 60000, 70000, 80000],
                         ticktext=["-", "10,000", "20,000", "30,000", "40,000", "50,000", "60,000", "70,000", "80,000"],
                         showline=True, linecolor=AXC, ticks="outside", ticklen=3, tickcolor=AXC, tickfont=tf(10)))
d12 = days(TEST_START, len(TESTS_TOTAL))
sc(d12, TESTS_TOTAL, x12, y12, DBLUE, 2.5, 5, MBLUE, DKOUT)
sc(d12, TESTS_LVE, x12, y12, TAN, 2, 5, TANM, TANOUT)
title("Daily Tests - 3 Day Moving Average", 500.2, 778)
leg_line(391.5, 413.2, 806, DBLUE, "Total", tx=415, msize=5, mfill=MBLUE, mout=DKOUT, fsize=10)
leg_line(391.5, 413.2, 862, TAN, "", msize=5, mfill=TANM, mout=TANOUT)
xx, yy = P(419, 856)
annos.append(dict(text="Lombardy,Veneto<br>and Emilia-<br>Romagna", x=xx, y=yy, xref="paper", yref="paper",
                  xanchor="left", yanchor="top", align="left", showarrow=False, font=tf(10)))

# ---------------- C13 ----------------
L, R = 650, 889.6
x13, y13, _ = panel(L, R, 808.3, 933.3,
                    date_x(IT_START, 652.2, 3.576, L, R, "2020-03-04", 7, "2020-05-06", angle=-90, size=11.5),
                    dict(range=[9, 25], tickvals=[9, 11, 13, 15, 17, 19, 21, 23, 25],
                         ticktext=["9%", "11%", "13%", "15%", "17%", "19%", "21%", "23%", "25%"], tickfont=tf(10)))
sc(d8, POS_IT, x13, y13, DBLUE, 2.5, 8, MBLUE, DKOUT)
title("Cumulative Positivity Rate in Italy", 771, 778)

# ---------------- C14 ----------------
L, R = 944, 1231.7
x14, y14, _ = panel(L, R, 808.3, 934.3,
                    date_x(LOMB_START, 946, 5.256, L, R, "2020-03-18", 7, "2020-05-06", angle=-45, size=11.5),
                    dict(range=[5, 75], tickvals=[5, 15, 25, 35, 45, 55, 65, 75],
                         ticktext=["5%", "15%", "25%", "35%", "45%", "55%", "65%", "75%"],
                         showline=True, linecolor=AXC, tickfont=tf(10)))
d14 = days(LOMB_START, len(LOMB_POS))
traces.append(go.Scatter(x=d14, y=LOMB_POS, xaxis=x14, yaxis=y14, mode="lines+markers", showlegend=False,
                         cliponaxis=False, connectgaps=False, line=dict(color=DBLUE, width=2.5),
                         marker=dict(size=7.5, color=MBLUE, line=dict(color=DKOUT, width=1))))
title("Daily Positivity Rate in Lombardy", 1070.7, 778)

# ---------------- C15 ----------------
L, R = 40.8, 255.1
r_vals = [-200, -100, 0, 100, 200, 300]
r_txt = neg_red(r_vals, ["(200)", "(100)", "0", "100", "200", "300"])
x15, y15, y15b = panel(L, R, 1040, 1188.3,
                       date_x(ICU_START, 44.5, 3.025, L, R, "2020-03-04", 21, "2020-05-06", angle=0, size=12.5, shift=20),
                       dict(range=[0, 5000], dtick=1000, tickformat="d", showline=True, linecolor=AXC,
                            ticks="outside", ticklen=3, tickcolor=AXC, tickfont=tf(11)),
                       dict(range=[-200, 300], tickvals=r_vals, ticktext=r_txt, showline=True, linecolor=AXC,
                            ticks="outside", ticklen=3, tickcolor=AXC, tickfont=tf(12)))
d15 = days(ICU_START, len(ICU))
sc(d15, ICU, x15, y15, DBLUE, 2.5, 6, MBLUE, DKOUT)
sc(d15, ICU_DOD, x15, y15b, TAN, 2, 6.5, TANM, TANOUT)
title("No of Patients in Intensive Care", 134.7, 1023.3, size=13.5)
leg_line(67.3, 93.9, 1225, DBLUE, "Cumulative", tx=96, msize=5, mfill=MBLUE, mout=DKOUT, fsize=10.5)
leg_line(200, 216, 1225, TAN, "DoD Change", tx=218.4, msize=5, mfill=TANM, mout=TANOUT, fsize=10.5)

# ---------------- C16 ----------------
L, R = 383.7, 610.2
x16, y16, _ = panel(L, R, 1043, 1173.3,
                    date_x(MORT_START, 385.7, 3.2, L, R, "2020-03-03", 14, "2020-04-28", angle=-30, size=10),
                    dict(range=[0, 17], tickvals=[0, 5, 10, 15], ticktext=["0.0%", "5.0%", "10.0%", "15.0%"],
                         showline=True, linecolor=AXC, tickfont=tf(11.5)))
d16 = days(MORT_START, len(MORT_LVE))
sc(d16, MORT_LVE, x16, y16, TAN, 1.5, 5, TANM, TANOUT)
sc(d16, MORT_ROI, x16, y16, DBLUE, 1.5, 5, MBLUE, DKOUT)
sc(d16, MORT_IT, x16, y16, TEAL, 1.5, 5, "#5fd3b3", "#1d5a48")
title("Italy Mortality Rate", 485.7, 1030, size=15)
text(MORT_LABELS[0], 604, 1033, size=12, color="#d9c680", anchor="center")
text(MORT_LABELS[1], 604, 1076, size=12, color="#5dcfb0", anchor="center")
text(MORT_LABELS[2], 604, 1097, size=12, color="#4a8fcf", anchor="center")
leg_line(393.9, 416.3, 1210.7, TAN, "Lombardy,Veneto and Emilia-Romagna", tx=418.4, width=2, msize=5,
         mfill=TANM, mout=TANOUT, fsize=9.5)
leg_line(393.9, 416.3, 1220.5, DBLUE, "Rest of Italy", tx=418.4, width=2, msize=5, mfill=MBLUE, mout=DKOUT, fsize=9.5)
leg_line(393.9, 416.3, 1230.7, TEAL, "Italy", tx=418.4, width=2, msize=5, mfill="#5fd3b3", mout="#1d5a48", fsize=9.5)

# ---------------- C17 ----------------
CFR_COL = "#0b5cad"
x17, y17, _ = panel(679.1, 914.6, 1045, 1203.3,
                    dict(type="category", range=[-0.5, len(AGE_IT) - 0.5], showline=False, ticks="",
                         tickfont=tf(10.5)),
                    dict(range=[0, 35], dtick=5, tickformat=".1f", tickfont=tf(12.5)))
traces.append(go.Bar(x=AGE_IT, y=CFR_IT, xaxis=x17, yaxis=y17, width=0.7, showlegend=False,
                     marker=dict(color=CFR_COL, line=dict(color=CFR_COL, width=1)),
                     text=["%.1f" % v for v in CFR_IT], textposition="outside", cliponaxis=False,
                     textfont=tf(12.5)))
title("Case Fatality Rate in Italy", 770.5, 1028.3, size=13.5)
text("%", 655.6, 1027, size=9)

# ---------------- C18 ----------------
x18, y18, _ = panel(981.1, 1241.2, 1051.7, 1200.7,
                    dict(type="category", range=[-0.5, len(AGE_KR) - 0.5], showline=False, ticks="",
                         tickfont=tf(10.5)),
                    dict(range=[0, 30], dtick=5, tickformat=".1f", tickfont=tf(12.5)))
traces.append(go.Bar(x=AGE_KR, y=CFR_KR, xaxis=x18, yaxis=y18, width=0.68, showlegend=False,
                     marker=dict(color=CFR_COL, line=dict(color=CFR_COL, width=1)),
                     text=["%.1f" % v for v in CFR_KR], textposition="outside", cliponaxis=False,
                     textfont=tf(12.5)))
title("Case Fatality Rate in Korea", 1053, 1028.3, size=13)
text("%", 942, 1027, size=9)

# ---------------- SOURCE ----------------
text("Source: Morgan Stanley Research, NHC, WHO, Korea CDC, CEIC, Johns Hopkins CSSE,NHS, ISS",
     10, 1250, size=13.5, color="#404040", italic=True)

fig = go.Figure(data=traces)
fig.update_layout(template="none", width=W, height=H, margin=dict(l=0, r=0, t=0, b=0, pad=0),
                  paper_bgcolor="white", plot_bgcolor="white", showlegend=False, barmode="stack",
                  font=dict(family=NARROW, size=11, color=TXT), shapes=shapes, annotations=annos,
                  **layout_axes)
fig.write_html("out.html", include_plotlyjs=True, config={"displayModeBar": False},
               post_script="document.body.style.margin='0';document.body.style.overflow='hidden';")
